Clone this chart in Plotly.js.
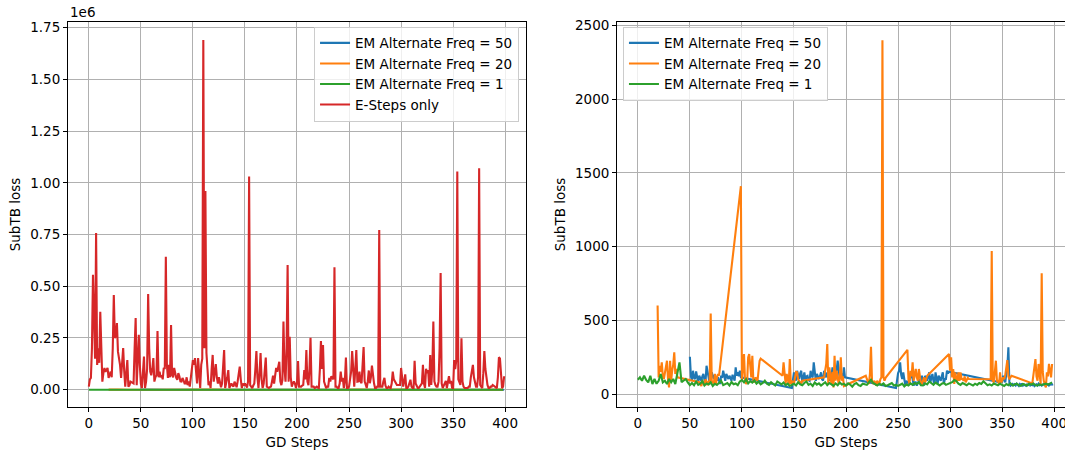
<!DOCTYPE html>
<html><head><meta charset="utf-8">
<script src="https://cdn.plot.ly/plotly-3.0.1.min.js"></script>
<style>html,body{margin:0;padding:0;overflow:hidden;background:#fff;width:1065px;height:452px}</style>
</head><body><div id="chart" style="width:1076px;height:452px"></div>
<script>
// ---- data ----
const seriesNames = ['EM Alternate Freq = 50', 'EM Alternate Freq = 20', 'EM Alternate Freq = 1', 'E-Steps only'];
const xTicks = [0, 50, 100, 150, 200, 250, 300, 350, 400];
const leftYTicks = [0, 250000, 500000, 750000, 1000000, 1250000, 1500000, 1750000];
const leftYTickText = ['0.00', '0.25', '0.50', '0.75', '1.00', '1.25', '1.50', '1.75'];
const rightYTicks = [0, 500, 1000, 1500, 2000, 2500];

// E-Steps only, one value per GD step 0..399
const redLoss = [
15e3,50e3,57e3,200e3,555e3,250e3,150e3,757e3,120e3,200e3,
130e3,377e3,135e3,39e3,80e3,105e3,87e3,95e3,105e3,57e3,
70e3,87e3,60e3,200e3,458e3,250e3,260e3,322e3,184e3,150e3,
120e3,57e3,130e3,201e3,90e3,15e3,80e3,143e3,15e3,20e3,
39e3,35e3,30e3,30e3,200e3,346e3,22e3,150e3,265e3,120e3,
30e3,8e3,100e3,160e3,8e3,39e3,100e3,463e3,200e3,87e3,
70e3,100e3,153e3,39e3,60e3,70e3,284e3,60e3,87e3,60e3,
70e3,50e3,105e3,100e3,643e3,120e3,57e3,120e3,60e3,313e3,
70e3,60e3,105e3,70e3,57e3,48e3,80e3,65e3,40e3,39e3,
57e3,45e3,30e3,30e3,60e3,22e3,40e3,15e3,60e3,112e3,
143e3,120e3,153e3,90e3,30e3,153e3,80e3,8e3,120e3,150e3,
1690e3,200e3,960e3,177e3,100e3,22e3,40e3,8e3,100e3,168e3,
39e3,80e3,124e3,60e3,30e3,60e3,40e3,12e3,30e3,100e3,
192e3,8e3,30e3,60e3,95e3,8e3,20e3,30e3,20e3,15e3,
39e3,20e3,12e3,40e3,87e3,112e3,50e3,8e3,30e3,20e3,
30e3,22e3,10e3,40e3,1030e3,22e3,15e3,8e3,20e3,30e3,
100e3,187e3,60e3,8e3,80e3,177e3,50e3,8e3,30e3,80e3,
155e3,15e3,10e3,8e3,12e3,15e3,40e3,68e3,30e3,60e3,
105e3,87e3,110e3,135e3,40e3,22e3,48e3,329e3,100e3,39e3,
200e3,603e3,39e3,256e3,60e3,15e3,30e3,39e3,30e3,8e3,
30e3,139e3,15e3,15e3,15e3,20e3,23e3,95e3,50e3,192e3,
40e3,22e3,100e3,251e3,15e3,15e3,15e3,8e3,12e3,15e3,
10e3,8e3,100e3,235e3,100e3,216e3,39e3,20e3,8e3,15e3,
15e3,57e3,40e3,65e3,55e3,50e3,592e3,15e3,15e3,8e3,
8e3,30e3,87e3,40e3,57e3,8e3,40e3,155e3,8e3,8e3,
15e3,50e3,87e3,187e3,60e3,15e3,100e3,192e3,39e3,40e3,
87e3,40e3,31e3,120e3,206e3,40e3,23e3,8e3,40e3,93e3,
31e3,60e3,116e3,50e3,31e3,8e3,8e3,15e3,15e3,772e3,
15e3,15e3,15e3,40e3,57e3,20e3,8e3,8e3,15e3,10e3,
8e3,30e3,87e3,50e3,43e3,31e3,23e3,23e3,23e3,23e3,
105e3,40e3,15e3,40e3,74e3,8e3,8e3,15e3,30e3,48e3,
15e3,8e3,8e3,140e3,30e3,15e3,8e3,8e3,15e3,20e3,
31e3,120e3,30e3,8e3,101e3,80e3,95e3,15e3,168e3,23e3,
100e3,329e3,40e3,23e3,15e3,15e3,39e3,200e3,564e3,30e3,
8e3,20e3,31e3,43e3,8e3,30e3,65e3,30e3,43e3,10e3,
8e3,143e3,100e3,140e3,1055e3,50e3,31e3,23e3,248e3,40e3,
15e3,8e3,8e3,8e3,8e3,15e3,15e3,60e3,105e3,120e3,
60e3,31e3,15e3,15e3,60e3,1070e3,23e3,15e3,8e3,80e3,
187e3,100e3,55e3,23e3,8e3,8e3,15e3,15e3,23e3,20e3,
15e3,10e3,8e3,60e3,157e3,150e3,60e3,8e3,15e3,65e3
];

// EM Alternate Freq = 1, logged every other GD step (0, 2, ..., 398)
const greenLoss = [
97,113,90,124,95,79,124,68,102,70,90,136,79,90,68,102,80,102,68,136,215,80,90,102,79,60,
75,60,85,62,70,88,58,72,65,80,55,70,62,78,90,60,68,74,58,82,66,72,60,85,
95,80,100,72,88,78,92,70,84,66,75,90,70,62,80,68,58,85,72,65,78,60,70,55,62,
70,58,80,66,60,75,85,62,70,55,78,64,72,58,68,80,60,74,66,55,72,60,78,64,70,
58,72,64,50,68,75,60,55,70,66,62,80,97,75,65,58,70,62,72,55,60,68,74,58,62,
55,60,70,52,65,58,72,62,75,68,80,60,58,72,65,85,70,62,78,66,58,70,75,62,68,
72,80,95,88,70,62,75,68,60,72,64,58,70,62,75,68,86,70,60,66,58,72,65,60,70,
62,55,68,60,72,58,65,70,60,55,68,62,58,70,64,72,60,58,66,62,68,70,64,72,79
];

// EM Alternate Freq = 50: logged blocks (first GD step of each block, then values per step)
const blueBlockStarts = [50, 148, 248, 348];
const blueBlock1 = [253,120,90,158,110,102,154,100,79,124,105,90,120,136,95,79,192,130,113,68,110,147,120,102,131,110,90,113,95,68,124,110,158,120,90,136,110,102,124,105,90,131,110,90,181,124,147,120,158,113];
const blueBlock2 = [41,100,147,110,90,158,120,102,140,158,79,110,147,90,120,124,95,90,158,120,113,215,130,90,136,110,102,120,147,100,90,158,125,113,147,110,90,136,120,181,130,102,136,160,226,130,102,147,120,102,181,113];
const blueBlock3 = [41,113,140,158,215,130,102,147,100,57,90,79,70,100,113,147,110,57,79,79,57,80,90,100,68,124,80,57,124,100,90,120,147,79,100,136,90,68,147,100,68,124,100,90,120,147,68,102,102,158,140,151];
const blueBlock4 = [79,90,79,124,100,79,136,181,317,68,57,62,68,60,66,58,70,62,55,68,60,72,58,64,60,56,66,62,70,58,64,60,68,55,62,66,58,70,60,64,57,62,68,60,55,64,66,58,62,68,64,66];

// EM Alternate Freq = 20: logged blocks
const orangeBlockStarts = [19, 59, 99, 139, 179, 219, 259, 299, 339, 379];
const orangeBlock1 = [600,113,192,150,215,120,102,147,200,226,100,45,226,90,158,200,283,136,170,113];
const orangeBlock2 = [80,60,55,90,70,60,100,80,60,90,70,547,90,79,70,136,68,110,136,124];
const orangeBlock3 = [1410,90,200,271,90,68,80,249,271,150,113,260,90,79,113,100,90,160,226,240];
const orangeBlock4 = [124,215,130,68,136,100,68,237,68,90,80,68,113,150,147,100,90,79,70,90];
const orangeBlock5 = [113,160,204,339,68,181,130,68,150,45,260,90,158,120,68,113,249,90,120,54];
const orangeBlock6 = [124,102,80,68,136,321,90,68,90,80,57,90,75,68,100,113,2400,113,90,110];
const orangeBlock7 = [300,100,68,158,120,215,90,130,170,113,90,170,100,68,68,90,113,79,100,124];
const orangeBlock8 = [271,158,249,113,170,68,147,102,90,147,90,147,102,102,90,120,80,100,110,102];
const orangeBlock9 = [100,970,90,79,158,226,90,90,68,147,79,90,113,100,130,180,230,120,100,113,124];
const orangeBlock10 = [72,130,181,237,120,90,204,100,68,820,150,90,60,45,147,120,204,150,113,204];

// ---- assemble ----
function blocksToXY(starts, blocks) {
  const xs = [], ys = [];
  blocks.forEach((b, k) => { b.forEach((v, i) => { xs.push(starts[k] + i); ys.push(v); }); });
  return {x: xs, y: ys};
}
const blue = blocksToXY(blueBlockStarts, [blueBlock1, blueBlock2, blueBlock3, blueBlock4]);
const orange = blocksToXY(orangeBlockStarts, [orangeBlock1, orangeBlock2, orangeBlock3, orangeBlock4, orangeBlock5, orangeBlock6, orangeBlock7, orangeBlock8, orangeBlock9, orangeBlock10]);
const greenSteps = greenLoss.map((v, i) => i * 2);
const redSteps = redLoss.map((v, i) => i);

const colors = ['#1f77b4', '#ff7f0e', '#2ca02c', '#d62728'];
const LW = 2.1;
const FONT = 'DejaVu Sans, sans-serif';
const FS = 13.5;

const traces = [
  {x: blue.x, y: blue.y, name: seriesNames[0], xaxis: 'x', yaxis: 'y', legend: 'legend', mode: 'lines', line: {color: colors[0], width: LW}},
  {x: orange.x, y: orange.y, name: seriesNames[1], xaxis: 'x', yaxis: 'y', legend: 'legend', mode: 'lines', line: {color: colors[1], width: LW}},
  {x: greenSteps, y: greenLoss, name: seriesNames[2], xaxis: 'x', yaxis: 'y', legend: 'legend', mode: 'lines', line: {color: colors[2], width: LW}},
  {x: redSteps, y: redLoss, name: seriesNames[3], xaxis: 'x', yaxis: 'y', legend: 'legend', mode: 'lines', line: {color: colors[3], width: LW}},
  {x: blue.x, y: blue.y, name: seriesNames[0], xaxis: 'x2', yaxis: 'y2', legend: 'legend2', mode: 'lines', line: {color: colors[0], width: LW}},
  {x: orange.x, y: orange.y, name: seriesNames[1], xaxis: 'x2', yaxis: 'y2', legend: 'legend2', mode: 'lines', line: {color: colors[1], width: LW}},
  {x: greenSteps, y: greenLoss, name: seriesNames[2], xaxis: 'x2', yaxis: 'y2', legend: 'legend2', mode: 'lines', line: {color: colors[2], width: LW}}
];

const axisCommon = {
  showline: true, linecolor: '#000', linewidth: 1, mirror: true,
  ticks: 'outside', ticklen: 4, tickwidth: 1, tickcolor: '#000',
  showgrid: true, gridcolor: '#b0b0b0', gridwidth: 1, zeroline: false,
  tickfont: {family: FONT, size: FS, color: '#000'}
};

const legendCommon = {
  bgcolor: 'rgba(255,255,255,0.8)', bordercolor: '#cccccc', borderwidth: 1,
  font: {family: FONT, size: FS, color: '#000'}, itemwidth: 30, yanchor: 'top', y: 0.988
};

const layout = {
  width: 1076, height: 452,
  margin: {l: 68, r: 1, t: 22, b: 45},
  paper_bgcolor: '#fff', plot_bgcolor: '#fff',
  font: {family: FONT, size: FS, color: '#000'},
  showlegend: true,
  xaxis: Object.assign({}, axisCommon, {domain: [0, 0.4548], range: [-20, 420], tickvals: xTicks, anchor: 'y',
    title: {text: 'GD Steps', font: {family: FONT, size: FS}, standoff: 7}}),
  yaxis: Object.assign({}, axisCommon, {range: [-83600, 1777000], tickvals: leftYTicks, ticktext: leftYTickText, anchor: 'x',
    title: {text: 'SubTB loss', font: {family: FONT, size: FS}, standoff: 6}}),
  xaxis2: Object.assign({}, axisCommon, {domain: [0.5452, 1], range: [-20, 420], tickvals: xTicks, anchor: 'y2',
    title: {text: 'GD Steps', font: {family: FONT, size: FS}, standoff: 7}}),
  yaxis2: Object.assign({}, axisCommon, {range: [-88, 2524], tickvals: rightYTicks, anchor: 'x2',
    title: {text: 'SubTB loss', font: {family: FONT, size: FS}, standoff: 6}}),
  legend: Object.assign({}, legendCommon, {x: 0.4479, xanchor: 'right'}),
  legend2: Object.assign({}, legendCommon, {x: 0.5511, xanchor: 'left'}),
  annotations: [{text: '1e6', xref: 'paper', yref: 'paper', x: 0, y: 1, xanchor: 'left', yanchor: 'bottom', showarrow: false,
    font: {family: FONT, size: FS, color: '#000'}, yshift: 0}]
};

Plotly.newPlot('chart', traces, layout, {displayModeBar: false, staticPlot: true});
</script></body></html>
